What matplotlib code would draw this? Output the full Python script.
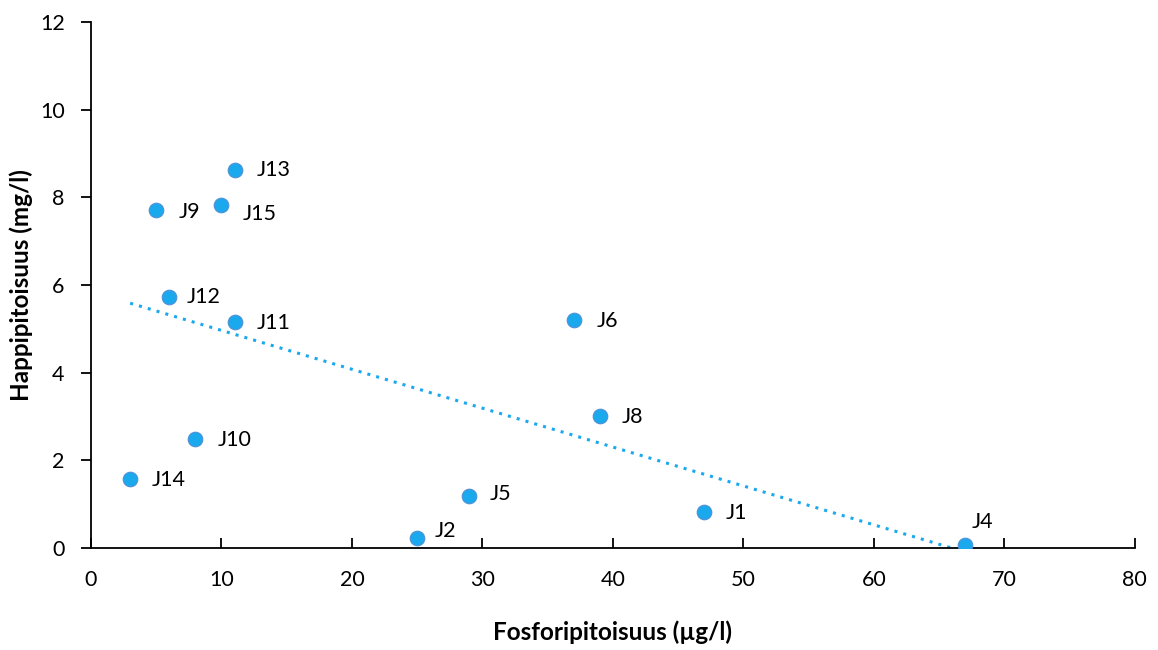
import numpy as np
import matplotlib
matplotlib.use("Agg")
import matplotlib.pyplot as plt

plt.rcParams['font.family'] = ['Lato', 'DejaVu Sans']

# data
labels = ["J13", "J9", "J15", "J12", "J11", "J6", "J8", "J10", "J14", "J5", "J2", "J1", "J4"]
fosfori = [11, 5, 10, 6, 11, 37, 39, 8, 3, 29, 25, 47, 67]
happi = [8.62, 7.71, 7.83, 5.73, 5.16, 5.20, 3.01, 2.49, 1.57, 1.19, 0.23, 0.82, 0.07]
# label offsets in pixels
label_offsets = [(22, 0), (22, -2), (21, -9), (17, 0), (22, -1), (23, -1), (22, -1),
                 (22, -1), (22, -1), (20, 2), (17, 7), (21, -1), (6, 23)]

POINT_COLOR = "#1ba9ee"


def main():
    fig = plt.figure(figsize=(11.58, 6.5), dpi=100)
    ax = fig.add_axes([0.0786, 0.157, 0.9014, 0.809])

    x = np.array(fosfori)
    y = np.array(happi)

    # linear trend line (dotted), limited to data range
    slope, intercept = np.polyfit(x, y, 1)
    xt = np.linspace(x.min(), x.max(), 200)
    ax.plot(xt, slope * xt + intercept, linestyle=(0, (1, 2)), color=POINT_COLOR,
            linewidth=2.2, zorder=2)

    ax.scatter(x, y, s=110, color=POINT_COLOR, edgecolors="#4f8fd6", linewidths=0.8, zorder=3)

    for lab, xi, yi, off in zip(labels, x, y, label_offsets):
        ax.annotate(lab, (xi, yi), xytext=off, textcoords="offset pixels",
                    ha="left", va="center", fontsize=15.5)

    ax.set_xlim(0, 80)
    ax.set_ylim(0, 12)
    ax.set_xticks(np.arange(0, 81, 10))
    ax.set_yticks(np.arange(0, 13, 2))
    ax.spines['top'].set_visible(False)
    ax.spines['right'].set_visible(False)
    ax.spines['left'].set_linewidth(1.3)
    ax.spines['bottom'].set_linewidth(1.3)
    ax.tick_params(axis='x', direction='in', length=7, width=1.3, labelsize=15.5, pad=16)
    ax.tick_params(axis='y', direction='out', length=7, width=1.3, labelsize=15.5, pad=12)

    ax.set_xlabel("Fosforipitoisuus (µg/l)", fontsize=17.5, fontweight="bold", labelpad=22)
    ax.set_ylabel("Happipitoisuus (mg/l)", fontsize=17.5, fontweight="bold")
    ax.yaxis.set_label_coords(-0.056, 0.5)

    ax.patch.set_visible(False)
    fig.savefig("out.png", dpi=100)


if __name__ == "__main__":
    main()
